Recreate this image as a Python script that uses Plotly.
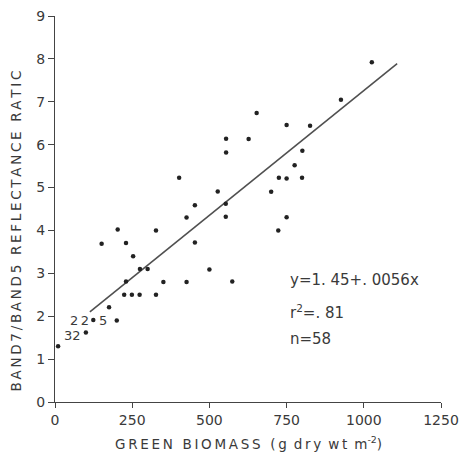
import plotly.graph_objects as go

# Data
biomass = [10, 100, 124, 200, 175, 151, 203, 230, 253, 275, 300, 230, 224, 249, 274,
           327, 327, 351, 402, 527, 453, 553, 426, 553, 453, 500, 426, 574, 725, 750,
           700, 750, 723, 1026, 926, 750, 826, 801, 776, 800, 554, 554, 653, 627]
ratio = [1.30, 1.62, 1.91, 1.90, 2.21, 3.69, 4.02, 3.71, 3.40, 3.10, 3.10, 2.81, 2.50, 2.50, 2.50,
         2.50, 4.00, 2.80, 5.23, 4.91, 4.59, 4.62, 4.30, 4.32, 3.72, 3.09, 2.80, 2.81, 5.23, 5.21,
         4.90, 4.31, 4.00, 7.92, 7.05, 6.46, 6.44, 5.86, 5.52, 5.23, 6.14, 5.82, 6.74, 6.13]
fit_x = [113, 1108]
fit_y = [2.10, 7.89]

x_ticks = [0, 250, 500, 750, 1000, 1250]
y_ticks = [0, 1, 2, 3, 4, 5, 6, 7, 8, 9]

FONT = "DejaVu Sans"
TXT = "#3a3a3a"

def spaced(s, sep="\u2009"):
    return sep.join(list(s))

fig = go.Figure()
fig.add_trace(go.Scatter(x=fit_x, y=fit_y, mode="lines",
                         line=dict(color="#505050", width=1.6), hoverinfo="skip"))
fig.add_trace(go.Scatter(x=biomass, y=ratio, mode="markers",
                         marker=dict(color="#222222", size=4.5)))

# page body adds an 8px offset, so the figure is sized/margined to compensate
fig.update_layout(
    width=464, height=448,
    margin=dict(l=47, r=31, t=8, b=54, autoexpand=False),
    paper_bgcolor="white", plot_bgcolor="white",
    showlegend=False,
    font=dict(family=FONT, size=14, color=TXT),
    xaxis=dict(range=[0, 1250], tickvals=x_ticks, ticktext=[str(v) for v in x_ticks],
               showgrid=False, zeroline=False, showline=True, linecolor="#444",
               linewidth=1.3, ticks="outside", ticklen=5, tickcolor="#444", automargin=False,
               ticklabeloverflow="allow",
               tickfont=dict(family=FONT, size=14, color=TXT)),
    yaxis=dict(range=[0, 9], tickvals=y_ticks, ticktext=[str(v) for v in y_ticks],
               showgrid=False, zeroline=False, showline=True, linecolor="#444",
               linewidth=1.3, ticks="outside", ticklen=6, tickcolor="#444", automargin=False,
               ticklabeloverflow="allow",
               tickfont=dict(family=FONT, size=14, color=TXT)),
)

ann = [
    dict(x=-0.101, y=0.442, xref="paper", yref="paper", textangle=-90,
         xanchor="center", yanchor="middle", borderpad=0,
         text=spaced("BAND7/BAND5") + "\u2009 \u2009" + spaced("REFLECTANCE") + "\u2009 \u2009" + spaced("RATIC"),
         font=dict(size=13.5)),
    dict(x=0.5, y=-0.107, xref="paper", yref="paper", xanchor="center", yanchor="middle",
         text=spaced("GREEN") + "\u2009 \u2009" + spaced("BIOMASS") + "\u2009 \u2009" + spaced("(g") + " \u2009" +
              spaced("dry") + " \u2009" + spaced("wt") + " \u2009m<sup>-2</sup>)",
         font=dict(size=13.5)),
    dict(x=754, y=2.84, xref="x", yref="y", xanchor="left", yanchor="middle",
         text="y=1. 45+. 0056x", font=dict(size=15)),
    dict(x=754, y=2.1, xref="x", yref="y", xanchor="left", yanchor="middle",
         text="r<sup>2</sup>=. 81", font=dict(size=15)),
    dict(x=754, y=1.48, xref="x", yref="y", xanchor="left", yanchor="middle",
         text="n=58", font=dict(size=15)),
    dict(x=23, y=1.56, xref="x", yref="y", xanchor="left", yanchor="middle",
         text="32", font=dict(size=13)),
    dict(x=115, y=1.91, xref="x", yref="y", xanchor="right", yanchor="middle",
         text="2\u20092", font=dict(size=13)),
    dict(x=136, y=1.91, xref="x", yref="y", xanchor="left", yanchor="middle",
         text="5", font=dict(size=13)),
]
for a in ann:
    a["showarrow"] = False
fig.update_layout(annotations=ann)

fig.write_html("out.html")
